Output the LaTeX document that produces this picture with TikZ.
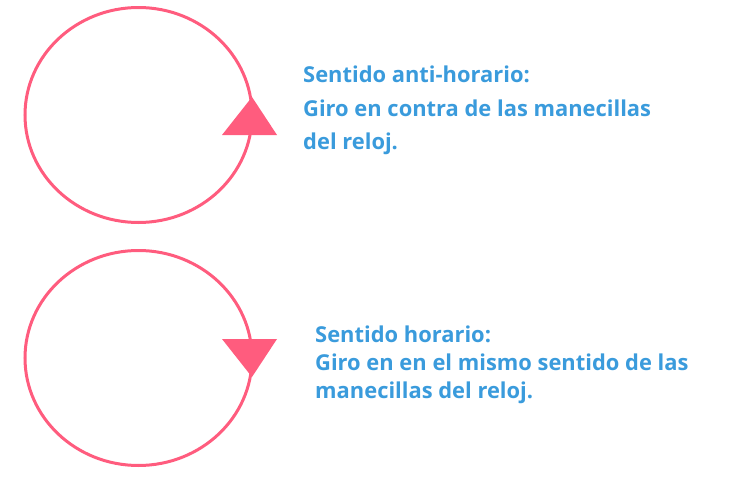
\documentclass[tikz,border=0pt]{standalone}
\usepackage{fontspec}
\setmainfont{Open Sans}
\definecolor{rosa}{HTML}{FF5C7E}
\definecolor{azul}{HTML}{3A9BDC}
\begin{document}
\begin{tikzpicture}[x=1pt,y=-1pt,
  ring/.style={draw=rosa,line width=3pt},
  tip/.style={fill=rosa,draw=none},
  lbl/.style={anchor=base west,inner sep=0pt,text=azul,font=\fontsize{21.9}{25}\selectfont\bfseries}]
\useasboundingbox (0,0) rectangle (732,482);
% top
\draw[ring] (138.5,115) ellipse [x radius=113.5, y radius=107.5];
\fill[tip] (252,97) -- (277,135) -- (222,135) -- cycle;
\node[lbl] (t1) at (303,82) {Sentido anti-horario:};
\node[lbl] (t2) at (303,116.5) {Giro en contra de las manecillas};
\node[lbl] (t3) at (303,149.5) {del reloj.};
% bottom
\draw[ring] (138.5,358) ellipse [x radius=113.5, y radius=107.5];
\fill[tip] (222,339) -- (277,339) -- (252,377) -- cycle;
\node[lbl] (b1) at (315,342) {Sentido horario:};
\node[lbl] (b2) at (315,370.5) {Giro en en el mismo sentido de las};
\node[lbl] (b3) at (315,398.5) {manecillas del reloj.};
\end{tikzpicture}
\end{document}
